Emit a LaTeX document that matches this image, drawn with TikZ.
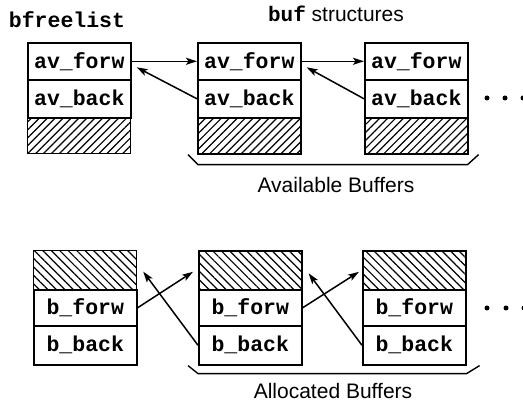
\documentclass[tikz,border=0pt]{standalone}
\usepackage{fontspec}
\setmainfont{Liberation Sans}
\newfontfamily\codefont{Liberation Mono}
\usetikzlibrary{arrows.meta,patterns.meta,calc}
\newcommand\codesize{\fontsize{21.5}{21.5}\selectfont}
\newcommand\textsize{\fontsize{21}{21}\selectfont}
\tikzset{
  cell/.style={draw,line width=1.6pt,minimum width=103pt,inner sep=0pt,anchor=north west,
    font=\codefont\bfseries\codesize},
  hatchup/.style={cell,pattern={Lines[angle=45,distance=5.6pt,line width=1.2pt]}},
  hatchdown/.style={cell,pattern={Lines[angle=-45,distance=6pt,line width=1.2pt]}},
  link/.style={line width=1.5pt,-{Stealth[length=11pt,width=7pt,inset=2.5pt]}},
  brace/.style={line width=1.4pt},
  caption/.style={font=\textsize},
  more/.style={fill,circle,inner sep=0pt,minimum size=5pt}
}
\begin{document}
\begin{tikzpicture}[x=1pt,y=-1pt]
\useasboundingbox (0,0) rectangle (523,403);

% list head and free buffers
\node[cell,minimum height=37pt] (t1f) at (27,42) {av\_forw};
\node[cell,minimum height=38pt] (t1b) at (27,79) {av\_back};
\node[hatchup,minimum height=36pt] (t1h) at (27,117) {};
\node[cell,minimum height=37pt] (t2f) at (197,42) {av\_forw};
\node[cell,minimum height=38pt] (t2b) at (197,79) {av\_back};
\node[hatchup,minimum height=36pt] (t2h) at (197,117) {};
\node[cell,minimum height=37pt] (t3f) at (364,42) {av\_forw};
\node[cell,minimum height=38pt] (t3b) at (364,79) {av\_back};
\node[hatchup,minimum height=36pt] (t3h) at (364,117) {};

\node[font=\codefont\bfseries\codesize] (head) at (67,20) {bfreelist};
\node[font=\textsize] (title) at (336,14) {{\codefont\bfseries buf} structures};

\draw[link] (t1f.east) -- (t2f.west);
\draw[link] (t2f.east) -- (t3f.west);
\coordinate (t1in) at ($(t1f.east)+(5,6)$);
\coordinate (t2in) at ($(t2f.east)+(5,6)$);
\draw[link] (t2b.west) -- (t1in);
\draw[link] (t3b.west) -- (t2in);

\draw[brace] ($(t2h.south west)+(-9,0)$) -- ++(10,10) -- ($(t3h.south east)+(-1,10)$) -- ++(11,-10);
\node[caption] (avail) at (336,185) {Available Buffers};

\node[more] (td1) at (487,98) {};
\node[more] (td2) at (505,98) {};
\node[more] (td3) at (523,98) {};

% buffers in use
\node[hatchdown,minimum height=39pt] (b1h) at (33,250) {};
\node[cell,minimum height=36pt] (b1f) at (33,289) {b\_forw};
\node[cell,minimum height=39pt] (b1b) at (33,325) {b\_back};
\node[hatchdown,minimum height=39pt] (b2h) at (198,250) {};
\node[cell,minimum height=36pt] (b2f) at (198,289) {b\_forw};
\node[cell,minimum height=39pt] (b2b) at (198,325) {b\_back};
\node[hatchdown,minimum height=39pt] (b3h) at (362,250) {};
\node[cell,minimum height=36pt] (b3f) at (362,289) {b\_forw};
\node[cell,minimum height=39pt] (b3b) at (362,325) {b\_back};

\coordinate (b2in) at ($(b2h.west)+(-5,1.5)$);
\coordinate (b3in) at ($(b3h.west)+(-3,1.5)$);
\coordinate (b1out) at ($(b1h.east)+(6,1.5)$);
\coordinate (b2out) at ($(b2h.east)+(6,3)$);
\draw[link] (b1f.east) -- (b2in);
\draw[link] (b2f.east) -- (b3in);
\draw[link] (b2b.west) -- (b1out);
\draw[link] (b3b.west) -- (b2out);

\draw[brace] ($(b2b.south west)+(-10,0)$) -- ++(10,8) -- ($(b3b.south east)+(0,8)$) -- ++(13,-8);
\node[caption] (alloc) at (333,391) {Allocated Buffers};

\node[more] (bd1) at (487,308) {};
\node[more] (bd2) at (506,308) {};
\node[more] (bd3) at (524,308) {};
\end{tikzpicture}
\end{document}
